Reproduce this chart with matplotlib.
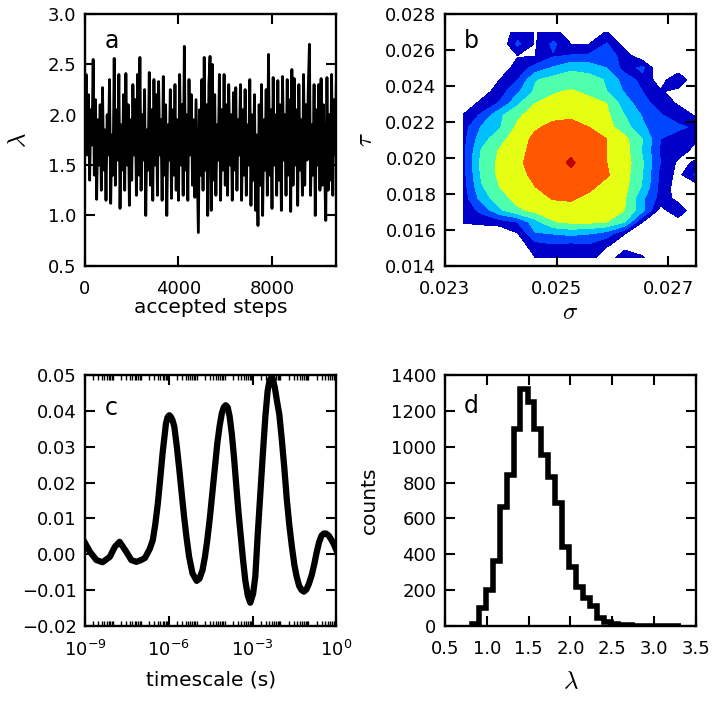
import numpy as np
import matplotlib
matplotlib.use('Agg')
import matplotlib.pyplot as plt
from matplotlib.ticker import LogLocator, NullFormatter, FuncFormatter, FixedLocator

plt.rcParams['font.family'] = ['DejaVu Sans']
plt.rcParams['mathtext.fontset'] = 'cm'
plt.rcParams['axes.linewidth'] = 1.7

# (a) MCMC trace of lambda, one value every 50 accepted steps
lam_trace = [
    1.85, 2.40, 1.60, 2.20, 1.35, 2.05, 1.70, 2.55, 1.40, 2.15, 1.16, 1.95,
    1.50, 2.10, 1.25, 2.27, 1.45, 1.85, 1.15, 2.00, 1.60, 2.35, 1.12, 1.80,
    1.40, 2.56, 1.30, 2.05, 1.55, 2.40, 1.07, 1.90, 1.45, 2.20, 1.25, 2.41,
    1.50, 2.10, 1.10, 1.95, 1.35, 2.30, 1.60, 2.15, 1.20, 2.40, 1.40, 2.57,
    1.25, 2.00, 1.55, 2.25, 1.00, 1.85, 1.45, 2.42, 1.30, 2.05, 1.15, 2.35,
    1.50, 2.20, 1.20, 2.33, 1.60, 1.95, 1.15, 2.38, 1.40, 2.10, 1.00, 1.90,
    1.55, 2.25, 1.17, 2.05, 1.40, 2.30, 1.25, 1.95, 1.15, 2.40, 1.50, 2.10,
    1.20, 2.68, 1.45, 2.00, 1.15, 2.35, 1.60, 2.20, 1.30, 1.95, 1.18, 2.15,
    1.50, 0.83, 2.05, 1.40, 2.35, 1.25, 2.57, 1.45, 2.10, 1.00, 2.30, 2.58,
    1.05, 2.50, 1.35, 2.20, 1.20, 1.90, 1.55, 2.40, 1.15, 2.05, 1.45, 2.40,
    1.30, 2.10, 1.20, 2.30, 1.50, 2.00, 1.15, 2.22, 1.45, 2.27, 1.25, 1.95,
    1.60, 2.30, 1.15, 2.05, 1.40, 2.25, 1.20, 1.90, 1.50, 2.35, 1.10, 2.00,
    1.35, 2.20, 1.05, 1.80, 0.90, 2.10, 1.30, 2.30, 1.00, 1.95, 1.45, 2.25,
    1.20, 2.60, 1.40, 2.05, 1.07, 2.37, 1.50, 2.00, 1.20, 2.34, 1.35, 2.10,
    1.05, 2.38, 1.55, 2.00, 1.20, 2.35, 1.40, 2.15, 1.04, 2.45, 1.30, 2.36,
    1.50, 2.05, 1.10, 2.30, 1.45, 1.95, 1.20, 2.40, 1.30, 2.10, 1.55, 2.25,
    2.70, 1.20, 1.90, 1.40, 2.30, 1.00, 2.05, 1.50, 2.30, 1.25, 2.36, 1.30,
    2.10, 1.45, 0.95, 2.37, 1.25, 2.00, 1.35, 2.40, 1.20, 2.15, 1.60, 2.30,
]
step_every = 50

# (b) joint density of sigma and tau (rows from top tau to bottom tau)
sigma = [0.02334, 0.02366, 0.02398, 0.02430, 0.02462, 0.02494, 0.02526,
         0.02558, 0.02590, 0.02622, 0.02654, 0.02686, 0.02718, 0.02750]
tau = [0.02699, 0.02633, 0.02567, 0.02501, 0.02435, 0.02369, 0.02303,
       0.02237, 0.02171, 0.02105, 0.02039, 0.01973, 0.01907, 0.01841,
       0.01775, 0.01709, 0.01643, 0.01577, 0.01511, 0.01445]
density = [
    [0, 0, 0, 1.6, 0.95, 1.3, 0.5, 0.6, 1.05, 0, 0, 0, 0, 0],
    [0, 0, 0, 2.2, 0.9, 2.25, 1.0, 1.0, 2.1, 0.6, 0, 0, 0, 0],
    [0, 0, 0, 0.95, 1.0, 1.9, 2.1, 2.2, 2.6, 1.5, 0.3, 0, 0, 0],
    [0, 0, 0.5, 1.3, 2.4, 3.1, 3.8, 3.6, 3.0, 1.6, 2.2, 0, 0.3, 0],
    [0, 0, 1.0, 2.0, 3.9, 4.4, 4.5, 4.4, 3.9, 2.5, 1.7, 0.5, 1.9, 0],
    [0, 0.5, 1.5, 2.8, 4.2, 4.9, 5.1, 4.8, 4.0, 2.9, 2.0, 1.1, 0.6, 0],
    [0.3, 1.3, 2.1, 3.8, 5.0, 5.3, 5.5, 5.3, 5.0, 3.5, 2.4, 1.5, 0.9, 0],
    [1.1, 2.2, 3.8, 4.8, 5.5, 5.8, 5.85, 5.7, 5.2, 4.0, 2.9, 2.1, 1.5, 0.9],
    [1.6, 3.1, 3.9, 5.2, 5.9, 6.2, 6.3, 6.0, 5.4, 4.4, 3.2, 2.3, 2.2, 1.8],
    [1.7, 3.6, 4.6, 5.6, 6.2, 6.5, 6.6, 6.3, 6.0, 5.3, 4.0, 2.0, 1.5, 1.1],
    [1.8, 4.1, 5.1, 5.7, 6.3, 6.6, 6.8, 6.5, 6.0, 5.4, 3.9, 1.9, 1.4, 0.7],
    [1.8, 4.3, 5.2, 5.85, 6.3, 6.6, 7.15, 6.5, 6.0, 5.5, 4.1, 2.0, 0.8, 1.1],
    [1.7, 4.2, 5.2, 5.6, 6.3, 6.6, 6.8, 6.5, 6.1, 5.4, 4.0, 1.7, 0.7, 2.2],
    [1.6, 3.9, 5.0, 5.6, 6.0, 6.5, 6.7, 6.2, 5.7, 5.3, 3.9, 1.7, 0.5, 0.5],
    [1.5, 3.4, 4.6, 5.3, 5.7, 6.05, 6.1, 5.8, 5.5, 5.1, 3.2, 1.6, 0.6, 0],
    [1.3, 2.3, 3.8, 4.8, 5.3, 5.6, 5.7, 5.6, 5.3, 5.0, 3.3, 0.6, 1.8, 0],
    [1.1, 1.3, 1.5, 2.0, 3.6, 4.9, 5.2, 5.2, 5.0, 4.0, 1.0, 0, 0.5, 0],
    [0, 0, 0, 0.9, 2.9, 3.0, 3.2, 3.0, 2.5, 1.0, 0.3, 0, 0, 0],
    [0, 0, 0, 0.4, 1.5, 1.8, 1.6, 1.8, 1.05, 0.7, 0.5, 0, 0, 0],
    [0, 0, 0, 0, 1.0, 1.5, 1.6, 1.3, 0.5, 1.5, 1.1, 0, 0, 0],
]
density_levels = [1, 2, 3, 4, 5, 6, 7, 8]
density_colors = ['#0000c8', '#0046ff', '#00c0ff', '#4effae',
                  '#e4ff14', '#ff5800', '#bf0000']

# (c) curve vs timescale (log10 of seconds)
log_t = [-9.0, -8.82, -8.59, -8.37, -8.11, -7.93, -7.76, -7.52, -7.34, -7.16,
         -6.99, -6.85, -6.68, -6.57, -6.48, -6.39, -6.30, -6.22, -6.10, -6.04,
         -5.98, -5.92, -5.86, -5.80, -5.71, -5.62, -5.53, -5.45, -5.36, -5.27,
         -5.15, -5.00, -4.90, -4.79, -4.70, -4.62, -4.53, -4.44, -4.35, -4.26,
         -4.18, -4.10, -4.03, -3.96, -3.89, -3.82, -3.74, -3.66, -3.58, -3.50,
         -3.42, -3.34, -3.26, -3.17, -3.08, -2.98, -2.90, -2.81, -2.72, -2.63,
         -2.54, -2.46, -2.39, -2.33, -2.27, -2.20, -2.13, -2.04, -1.95, -1.86,
         -1.77, -1.68, -1.59, -1.50, -1.42, -1.33, -1.24, -1.16, -1.07, -0.98,
         -0.88, -0.79, -0.71, -0.62, -0.53, -0.45, -0.37, -0.27, -0.17, -0.08,
         0.0]
corr = [0.0032, 0.0007, -0.0016, -0.0022, -0.0007, 0.0021, 0.0035, 0.0007, -0.0016, -0.0021,
        -0.0016, -0.0010, 0.0015, 0.0040, 0.0085, 0.0142, 0.0215, 0.0282, 0.0365, 0.0383,
        0.0388, 0.0383, 0.0373, 0.0356, 0.0300, 0.0235, 0.0165, 0.0105, 0.0045, -0.0007,
        -0.0053, -0.0074, -0.0068, -0.0044, -0.0005, 0.0040, 0.0100, 0.0170, 0.0240, 0.0310,
        0.0357, 0.0393, 0.0410, 0.0416, 0.0410, 0.0385, 0.0335, 0.0268, 0.0190, 0.0115,
        0.0050, -0.0015, -0.0072, -0.0115, -0.0135, -0.0110, -0.0062, 0.0060, 0.0170, 0.0280,
        0.0384, 0.0455, 0.0485, 0.0492, 0.0488, 0.0465, 0.0430, 0.0390, 0.0319, 0.0240,
        0.0151, 0.0080, 0.0021, -0.0030, -0.0062, -0.0088, -0.0100, -0.0104, -0.0098, -0.0082,
        -0.0058, -0.0028, 0.0003, 0.0033, 0.0052, 0.0058, 0.0058, 0.0052, 0.0040, 0.0027,
        0.0012]

# (d) histogram of lambda
lam_edges = [0.82, 0.903, 0.987, 1.07, 1.153, 1.237, 1.32, 1.403, 1.487, 1.57,
             1.653, 1.737, 1.82, 1.903, 1.987, 2.07, 2.153, 2.237, 2.32, 2.403,
             2.487, 2.57, 2.653, 2.737, 2.82, 2.903, 2.987, 3.07, 3.153, 3.237, 3.32]
lam_counts = [12, 100, 200, 365, 665, 840, 1100, 1325, 1250, 1100,
              955, 830, 685, 440, 330, 220, 155, 110, 45, 25,
              12, 6, 4, 3, 2, 2, 1, 1, 1, 1]


def fmt(spec):
    # format with a proper minus sign
    return FuncFormatter(lambda v, pos: (spec % v).replace('-', '\u2212'))


fig = plt.figure(figsize=(7.14, 7.05), dpi=100)
ax_a = fig.add_axes([0.119, 0.623, 0.352, 0.357])
ax_b = fig.add_axes([0.623, 0.623, 0.352, 0.357])
ax_c = fig.add_axes([0.119, 0.112, 0.352, 0.356])
ax_d = fig.add_axes([0.623, 0.112, 0.352, 0.356])

for ax in (ax_a, ax_b, ax_c, ax_d):
    ax.tick_params(which='major', direction='in', top=True, right=True,
                   length=7, width=1.5, labelsize=13)
    ax.tick_params(which='minor', direction='in', top=True, right=True,
                   length=3.5, width=1.0)
    ax.tick_params(axis='x', which='major', pad=10)
    ax.tick_params(axis='y', which='major', pad=6)

# a
steps = np.arange(len(lam_trace)) * step_every
ax_a.plot(steps, lam_trace, color='k', lw=2.0)
ax_a.set_xlim(0, steps[-1])
ax_a.set_ylim(0.5, 3.0)
ax_a.set_xticks([0, 4000, 8000])
ax_a.set_yticks([0.5, 1.0, 1.5, 2.0, 2.5, 3.0])
ax_a.yaxis.set_major_formatter(fmt('%.1f'))
ax_a.set_xlabel('accepted steps', fontsize=14.5, labelpad=0.5)
ax_a.set_ylabel(r'$\lambda$', fontsize=18, labelpad=13)

# b
ax_b.contourf(sigma, tau, np.array(density), levels=density_levels,
              colors=density_colors)
ax_b.set_xlim(0.023, 0.0275)
ax_b.set_ylim(0.014, 0.028)
ax_b.set_xticks([0.023, 0.025, 0.027])
ax_b.set_yticks([0.014, 0.016, 0.018, 0.020, 0.022, 0.024, 0.026, 0.028])
ax_b.xaxis.set_major_formatter(fmt('%.3f'))
ax_b.yaxis.set_major_formatter(fmt('%.3f'))
ax_b.set_xlabel(r'$\sigma$', fontsize=18, labelpad=2)
ax_b.set_ylabel(r'$\tau$', fontsize=18, labelpad=6)

# c
ax_c.semilogx(10.0 ** np.array(log_t), corr, color='k', lw=4.5)
ax_c.set_xlim(1e-9, 1e0)
ax_c.set_ylim(-0.02, 0.05)
ax_c.xaxis.set_major_locator(FixedLocator([1e-9, 1e-6, 1e-3, 1e0]))
ax_c.set_xticklabels([r'$\mathregular{10^{-9}}$', r'$\mathregular{10^{-6}}$',
                      r'$\mathregular{10^{-3}}$', r'$\mathregular{10^{0}}$'])
ax_c.xaxis.set_minor_locator(LogLocator(base=10, subs=np.arange(1, 10), numticks=100))
ax_c.xaxis.set_minor_formatter(NullFormatter())
ax_c.set_yticks([-0.02, -0.01, 0.0, 0.01, 0.02, 0.03, 0.04, 0.05])
ax_c.yaxis.set_major_formatter(fmt('%.2f'))
ax_c.set_xlabel('timescale (s)', fontsize=14.5, labelpad=7.5)

# d
ax_d.stairs(lam_counts, lam_edges, color='k', lw=4, baseline=0)
ax_d.set_xlim(0.5, 3.5)
ax_d.set_ylim(0, 1400)
ax_d.set_xticks([0.5, 1.0, 1.5, 2.0, 2.5, 3.0, 3.5])
ax_d.set_yticks(range(0, 1401, 200))
ax_d.xaxis.set_major_formatter(fmt('%.1f'))
ax_d.set_xlabel(r'$\lambda$', fontsize=18, labelpad=8)
ax_d.set_ylabel('counts', fontsize=14.5, labelpad=9)

for ax, letter, ypos in ((ax_a, 'a', 0.895), (ax_b, 'b', 0.895),
                         (ax_c, 'c', 0.87), (ax_d, 'd', 0.875)):
    ax.text(0.105, ypos, letter, transform=ax.transAxes, fontsize=17,
            ha='center', va='center')

fig.savefig('out.png', dpi=100)
